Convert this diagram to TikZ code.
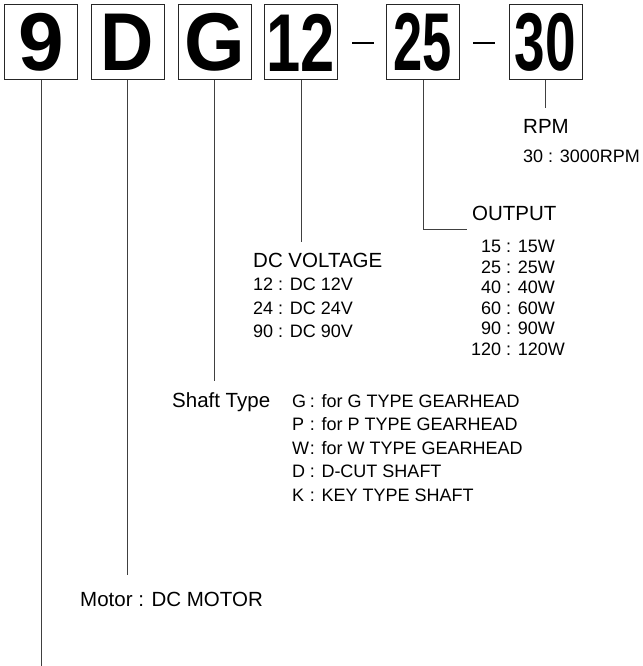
\documentclass[tikz,border=0pt]{standalone}
\usepackage{fontspec}
\setmainfont{Liberation Sans}
\usetikzlibrary{positioning}

\tikzset{
  codebox/.style={draw=black!85,line width=1pt,minimum width=73pt,minimum height=75pt,
                  inner sep=0pt,font=\fontsize{82}{82}\selectfont\bfseries},
  lead/.style={draw=black!75,line width=0.8pt},
  headtext/.style={inner sep=0pt,font=\fontsize{20.5}{24}\selectfont},
  itemtext/.style={inner sep=0pt,align=left,font=\fontsize{18}{23.5}\selectfont},
}
\newcommand{\keyletter}[1]{\makebox[0.98em][l]{#1}}

\begin{document}
\begin{tikzpicture}[x=1pt,y=-1pt]
    \useasboundingbox (0,0) rectangle (642,666);

    % Code boxes
    \node[codebox] (n9)  at (41,42.5)    {9};
    \node[codebox] (nD)  at (127.5,42.5) {\scalebox{0.9}[1]{D}};
    \node[codebox] (nG)  at (214.5,42.5) {\scalebox{0.95}[1]{G}};
    \node[codebox] (n12) at (301,42.5)   {\scalebox{0.75}[1]{12}};
    \node[codebox] (n25) at (423,42.5)   {\scalebox{0.64}[1]{25}};
    \node[codebox] (n30) at (545.5,42.5) {\scalebox{0.67}[1]{30}};

    % Dashes
    \draw[line width=2.6pt] (352,43) -- (374,43);
    \draw[line width=2.6pt] (473,43) -- (495,43);

    % RPM
    \node[headtext,anchor=base west] (rpm) at (523,133) {RPM};
    \node[itemtext,anchor=base west] (rpmlist) at (523,162) {30 : 3000RPM};
    \coordinate (rpmend) at (545.5,108);
    \draw[lead] (n30.south) -- (rpmend);

    % Output
    \node[headtext,anchor=base west] (output) at (472,220) {OUTPUT};
    \node[inner sep=0pt,align=center,font=\fontsize{18}{20.5}\selectfont,anchor=north]
          (outlist) at (518,240) {15 : 15W\\25 : 25W\\40 : 40W\\60 : 60W\\90 : 90W\\120 : 120W};
    \coordinate (outend) at (467,229);
    \draw[lead] (n25.south) |- (outend);

    % DC voltage
    \node[headtext,anchor=base west] (volt) at (253,267) {DC VOLTAGE};
    \node[itemtext,anchor=north west] (voltlist) at (253,278) {12 : DC 12V\\24 : DC 24V\\90 : DC 90V};
    \coordinate (voltend) at (301,242);
    \draw[lead] (n12.south) -- (voltend);

    % Shaft type
    \node[headtext,anchor=base west] (shaft) at (172,407) {Shaft Type};
    \node[itemtext,anchor=north west] (shaftlist) at (292,394) {%
        \keyletter{G}: for G TYPE GEARHEAD\\
        \keyletter{P}: for P TYPE GEARHEAD\\
        \keyletter{W}: for W TYPE GEARHEAD\\
        \keyletter{D}: D-CUT SHAFT\\
        \keyletter{K}: KEY TYPE SHAFT};
    \coordinate (shaftend) at (214.5,381);
    \draw[lead] (nG.south) -- (shaftend);

    % Motor
    \node[headtext,anchor=base west] (motor) at (80,606) {Motor : DC MOTOR};
    \coordinate (motorend) at (127.5,575);
    \draw[lead] (nD.south) -- (motorend);

    % Series
    \coordinate (seriesend) at (41,666);
    \draw[lead] (n9.south) -- (seriesend);
\end{tikzpicture}
\end{document}
